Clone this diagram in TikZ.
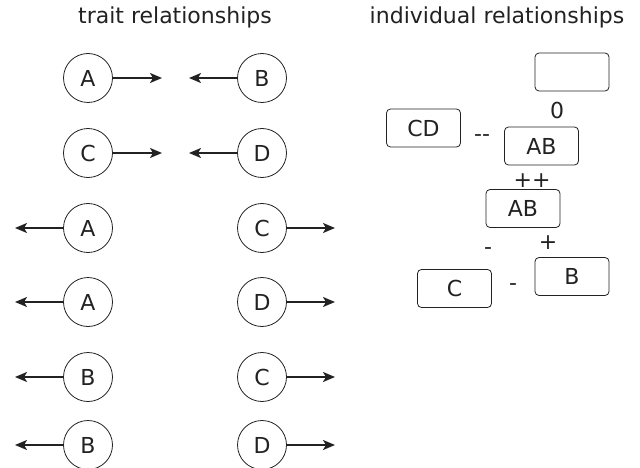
\documentclass[tikz,border=0pt]{standalone}
\usepackage{fontspec}
\setmainfont{DejaVu Sans}
\usetikzlibrary{arrows.meta}
\definecolor{ink}{HTML}{222222}
\begin{document}
\begin{tikzpicture}[x=1pt,y=-1pt,ink,
    trait/.style={circle,draw,line width=0.8pt,minimum size=49pt,inner sep=0pt,font=\fontsize{22}{26}\selectfont},
    indbox/.style={draw,line width=0.8pt,rounded corners=4pt,minimum width=74pt,minimum height=38pt,font=\fontsize{22}{26}\selectfont},
    sign/.style={font=\fontsize{22}{26}\selectfont},
    heading/.style={font=\fontsize{22}{26}\selectfont},
    arr/.style={-{Stealth[length=12pt,width=10pt,inset=3pt]},line width=1.8pt}]
\useasboundingbox (0,0) rectangle (640,468);
% headings
\node[heading] (traithead) at (175,17) {trait relationships};
\node[heading] (indhead) at (497,17) {individual relationships};
% traits pointing inwards
\node[trait] (A0) at (88,78) {A};
\node[trait] (B0) at (262,78) {B};
\node[trait] (C0) at (88,153) {C};
\node[trait] (D0) at (262,153) {D};
\coordinate (a0) at (162,78);
\coordinate (b0) at (189,78);
\coordinate (c0) at (162,153);
\coordinate (d0) at (189,153);
\draw[arr] (A0) -- (a0);
\draw[arr] (B0) -- (b0);
\draw[arr] (C0) -- (c0);
\draw[arr] (D0) -- (d0);
% traits pointing outwards
\foreach \l/\r/\y [count=\i] in {A/C/228,A/D/302,B/C/377,B/D/445}{
    \node[trait] (left\i) at (88,\y) {\l};
    \node[trait] (right\i) at (262,\y) {\r};
    \coordinate (lend\i) at (15,\y);
    \coordinate (rend\i) at (335,\y);
    \draw[arr] (left\i) -- (lend\i);
    \draw[arr] (right\i) -- (rend\i);
}
% individuals
\node[indbox] (empty) at (572,72) {};
\node[sign] (zero) at (557,110) {0};
\node[indbox] (CD) at (423.5,128) {CD};
\node[sign] (mm) at (482,138) {{-}{-}};
\node[indbox] (AB1) at (541.5,146) {AB};
\node[sign] (pp) at (532,181) {++};
\node[indbox] (AB2) at (523,208.5) {AB};
\node[sign] (mA) at (488,251) {-};
\node[sign] (pA) at (548,243) {+};
\node[indbox] (B) at (572,276.5) {B};
\node[indbox] (C) at (454.5,288.5) {C};
\node[sign] (mC) at (513,287) {-};
\end{tikzpicture}
\end{document}
